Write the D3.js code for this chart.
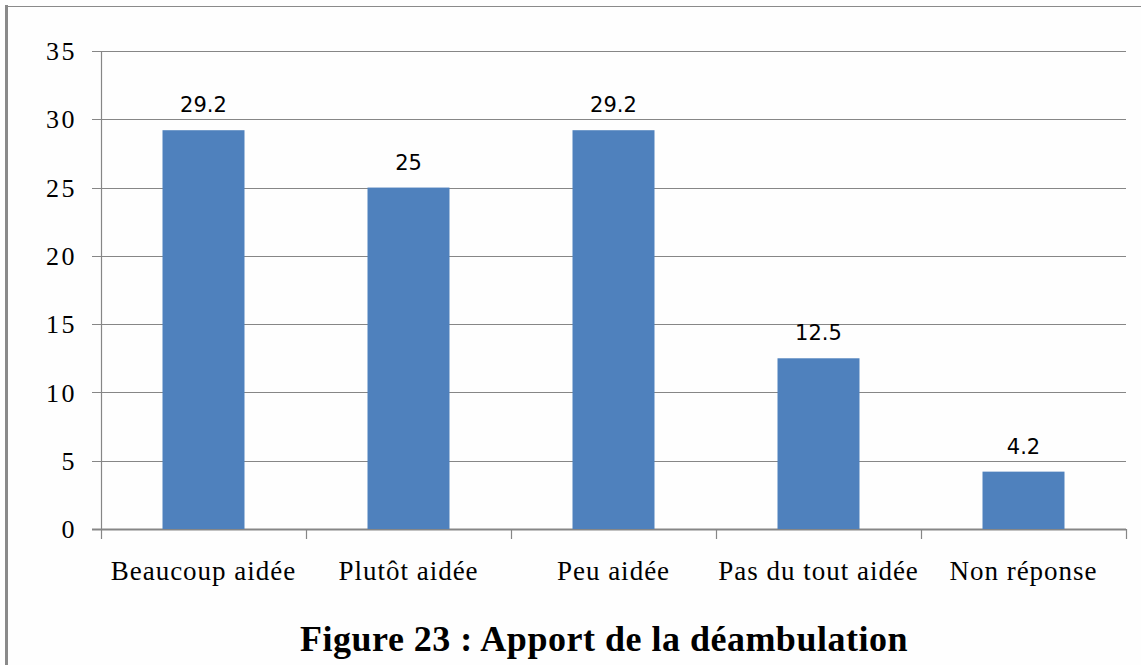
<!DOCTYPE html>
<html>
<head>
<meta charset="utf-8">
<script src="https://cdn.jsdelivr.net/npm/d3@7"></script>
<style>
  body { margin: 0; background: #fff; }
  svg { display: block; }
</style>
</head>
<body>
<div class="chart"></div>
<script>
var svgWidth = 1141;
var svgHeight = 665;

// data
var categories = ["Beaucoup aidée", "Plutôt aidée", "Peu aidée", "Pas du tout aidée", "Non réponse"];
var values = [29.2, 25, 29.2, 12.5, 4.2];
var yTicks = [0, 5, 10, 15, 20, 25, 30, 35];
var title = "Figure 23 : Apport de la déambulation";

var margin = { top: 51, right: 15, bottom: 136, left: 101 };
var width = svgWidth - margin.left - margin.right;
var height = svgHeight - margin.top - margin.bottom;

var serif = "'Liberation Serif', 'Times New Roman', serif";

var svg = d3.select(".chart")
  .append("svg")
  .attr("width", svgWidth)
  .attr("height", svgHeight);

svg.append("rect")
  .attr("width", svgWidth)
  .attr("height", svgHeight)
  .attr("fill", "#fefefe");

// page frame (left and top)
svg.append("line")
  .attr("x1", 6.5).attr("x2", 6.5)
  .attr("y1", 5).attr("y2", svgHeight)
  .attr("stroke", "#8a8a8a")
  .attr("stroke-width", 3);
svg.append("line")
  .attr("x1", 6).attr("x2", svgWidth)
  .attr("y1", 6.5).attr("y2", 6.5)
  .attr("stroke", "#8a8a8a")
  .attr("stroke-width", 1);

var chartGroup = svg.append("g")
  .attr("transform", `translate(${margin.left}, ${margin.top})`);

var xBandScale = d3.scaleBand()
  .domain(categories)
  .range([0, width])
  .paddingInner(0.6)
  .paddingOuter(0.3);

var yLinearScale = d3.scaleLinear()
  .domain([0, 35])
  .range([height, 0]);

// gridlines with left tick stubs
chartGroup.append("g")
  .selectAll("line")
  .data(yTicks)
  .enter()
  .append("line")
  .attr("x1", -9)
  .attr("x2", width)
  .attr("y1", d => Math.round(yLinearScale(d)) + 0.5)
  .attr("y2", d => Math.round(yLinearScale(d)) + 0.5)
  .attr("stroke", "#868686")
  .attr("stroke-width", d => d === 0 ? 2 : 1.2);

// y axis line
chartGroup.append("line")
  .attr("x1", 0.5).attr("x2", 0.5)
  .attr("y1", 0).attr("y2", height)
  .attr("stroke", "#868686")
  .attr("stroke-width", 1.2);

// y tick labels
chartGroup.append("g")
  .selectAll("text")
  .data(yTicks)
  .enter()
  .append("text")
  .attr("x", -24)
  .attr("y", d => yLinearScale(d))
  .attr("dy", "0.35em")
  .attr("text-anchor", "end")
  .attr("font-family", serif)
  .attr("font-size", 26)
  .attr("letter-spacing", 2.5)
  .attr("fill", "#000")
  .text(d => d);

// x category ticks
var step = xBandScale.step();
chartGroup.append("g")
  .selectAll("line")
  .data(d3.range(categories.length + 1))
  .enter()
  .append("line")
  .attr("x1", i => Math.round(i * step) + 0.5)
  .attr("x2", i => Math.round(i * step) + 0.5)
  .attr("y1", height)
  .attr("y2", height + 10)
  .attr("stroke", "#868686")
  .attr("stroke-width", 1.2);

// bars
chartGroup.selectAll("rect.bar")
  .data(values)
  .enter()
  .append("rect")
  .attr("class", "bar")
  .attr("x", (d, i) => xBandScale(categories[i]))
  .attr("y", d => yLinearScale(d))
  .attr("width", xBandScale.bandwidth())
  .attr("height", d => height - yLinearScale(d))
  .attr("fill", "#4f81bd");

// value labels
chartGroup.selectAll("text.val")
  .data(values)
  .enter()
  .append("text")
  .attr("class", "val")
  .attr("x", (d, i) => xBandScale(categories[i]) + xBandScale.bandwidth() / 2)
  .attr("y", d => yLinearScale(d) - 18)
  .attr("text-anchor", "middle")
  .attr("font-family", "'DejaVu Sans', 'Liberation Sans', sans-serif")
  .attr("font-size", 21)
  .attr("fill", "#000")
  .text(d => d);

// x category labels
chartGroup.selectAll("text.cat")
  .data(categories)
  .enter()
  .append("text")
  .attr("class", "cat")
  .attr("x", d => xBandScale(d) + xBandScale.bandwidth() / 2)
  .attr("y", height + 51)
  .attr("text-anchor", "middle")
  .attr("font-family", serif)
  .attr("font-size", 27)
  .attr("letter-spacing", 1)
  .attr("fill", "#000")
  .text(d => d);

// figure caption
svg.append("text")
  .attr("x", 604)
  .attr("y", 651)
  .attr("text-anchor", "middle")
  .attr("font-family", serif)
  .attr("font-weight", "bold")
  .attr("font-size", 36)
  .attr("letter-spacing", 0.5)
  .attr("fill", "#000")
  .text(title);
</script>
</body>
</html>
